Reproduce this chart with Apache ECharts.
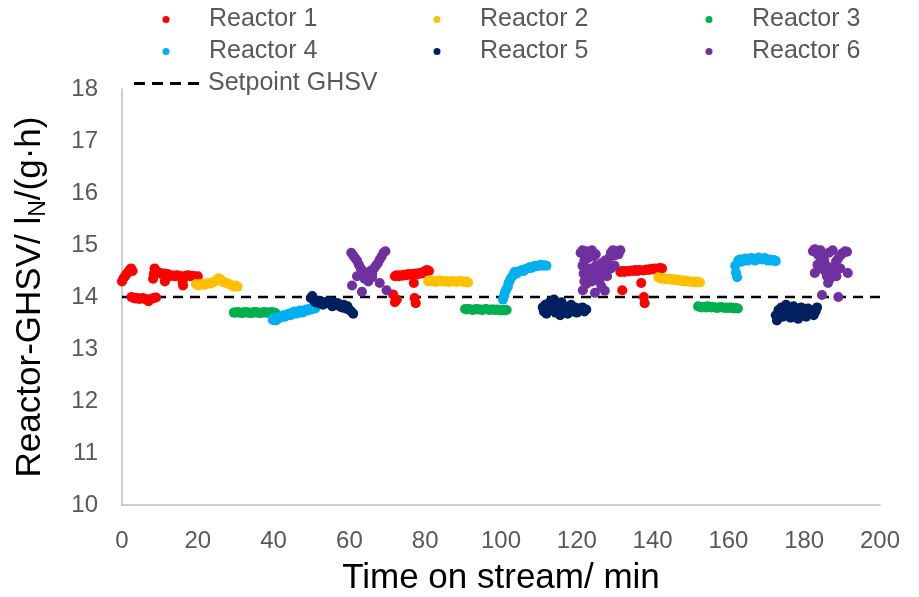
<!DOCTYPE html>
<html>
<head>
<meta charset="utf-8">
<script src="https://cdn.jsdelivr.net/npm/echarts@6/dist/echarts.min.js"></script>
<style>
  html, body { margin: 0; padding: 0; background: #fff; }
  #chart { width: 919px; height: 597px; }
</style>
</head>
<body>
<div id="chart"></div>
<script>
// Time on stream (min) and measured GHSV (lN/(g·h)) per reactor, as [time, ghsv]
const reactor1 = [
  [0,14.3],[0.4,14.36],[0.8,14.4],[1.2,14.44],[1.6,14.48],[2.0,14.52],[2.4,14.55],[2.8,14.5],
  [2.5,14.0],[3,13.98],[3.5,13.97],[4,13.98],[4.5,13.96],[5,13.97],[5.5,13.98],[6,13.96],[6.5,13.95],[7,13.92],[7.5,13.96],[8,13.97],[8.5,13.98],[9,13.99],
  [8.2,14.35],[8.4,14.45],[8.6,14.55],[9,14.5],[9.5,14.48],[10,14.46],[10.5,14.44],[11,14.45],[11.3,14.3],[11.5,14.42],[12,14.44],[12.5,14.4],[13,14.42],[13.5,14.41],[14,14.4],[14.5,14.42],[15,14.41],[15.5,14.4],[16,14.3],[16.1,14.22],[16.5,14.4],[17,14.41],[17.5,14.42],[18,14.4],[18.5,14.41],[19,14.4],[19.5,14.39],[20,14.4],
  [71.5,14.05],[72,13.9],[72.5,13.95],[72,14.4],[72.5,14.42],[73,14.4],[73.5,14.42],[74,14.41],[74.5,14.43],[75,14.42],[75.5,14.44],[76,14.43],[76.5,14.44],[77,14.27],[77.2,13.98],[77.5,13.88],[77.5,14.45],[78,14.44],[78.5,14.46],[79,14.45],[79.5,14.48],[80,14.5],[80.5,14.52],[81,14.5],
  [131.5,14.48],[132,14.5],[132,14.13],[132.5,14.48],[133,14.5],[133.5,14.49],[134,14.5],[134.5,14.51],[135,14.5],[135.5,14.52],[136,14.5],[136.5,14.52],[137,14.27],[137.5,14.51],[137.7,14.0],[137.9,13.88],[138,14.52],[138.5,14.53],[139,14.52],[139.5,14.54],[140,14.53],[140.5,14.55],[141,14.54],[141.5,14.55],[142,14.56],[142.5,14.55]
];
const reactor2 = [
  [19.5,14.25],[20,14.22],[20.5,14.24],[21,14.25],[21.5,14.23],[22,14.26],[22.5,14.25],[23,14.27],[23.5,14.26],[24,14.28],[24.5,14.3],[25,14.33],[25.5,14.36],[26,14.34],[26.5,14.3],[27,14.28],[27.5,14.27],[28,14.26],[28.5,14.24],[29,14.22],[29.5,14.2],[30,14.22],[30.5,14.2],
  [80.8,14.3],[81.3,14.32],[81.8,14.3],[82.3,14.31],[82.8,14.29],[83.3,14.3],[83.8,14.32],[84.3,14.31],[84.8,14.3],[85.3,14.31],[85.8,14.3],[86.3,14.29],[86.8,14.3],[87.3,14.31],[87.8,14.3],[88.3,14.29],[88.8,14.3],[89.3,14.31],[89.8,14.3],[90.3,14.29],[90.8,14.3],[91.3,14.28],
  [141.5,14.38],[142,14.36],[142.5,14.35],[143,14.36],[143.5,14.34],[144,14.34],[144.5,14.35],[145,14.33],[145.5,14.34],[146,14.32],[146.5,14.33],[147,14.32],[147.5,14.31],[148,14.32],[148.5,14.3],[149,14.31],[149.5,14.3],[150,14.3],[150.5,14.29],[151,14.3],[151.5,14.28],[152,14.29],[152.5,14.28]
];
const reactor3 = [
  [29.5,13.7],[30,13.7],[30.5,13.71],[31,13.7],[31.5,13.69],[32,13.7],[32.5,13.71],[33,13.7],[33.5,13.7],[34,13.69],[34.5,13.7],[35,13.71],[35.5,13.7],[36,13.7],[36.5,13.69],[37,13.7],[37.5,13.71],[38,13.7],[38.5,13.7],[39,13.69],[39.5,13.71],[40,13.7],[40.5,13.69],
  [90.5,13.77],[91,13.76],[91.5,13.77],[92,13.76],[92.5,13.75],[93,13.76],[93.5,13.77],[94,13.76],[94.5,13.76],[95,13.75],[95.5,13.76],[96,13.77],[96.5,13.76],[97,13.75],[97.5,13.76],[98,13.76],[98.5,13.75],[99,13.76],[99.5,13.75],[100,13.74],[100.5,13.75],[101,13.74],[101.5,13.75],
  [152,13.82],[152.5,13.81],[153,13.8],[153.5,13.81],[154,13.8],[154.5,13.82],[155,13.81],[155.5,13.8],[156,13.81],[156.5,13.8],[157,13.79],[157.5,13.8],[158,13.81],[158.5,13.8],[159,13.79],[159.5,13.8],[160,13.79],[160.5,13.8],[161,13.79],[161.5,13.78],[162,13.79],[162.5,13.78]
];
const reactor4 = [
  [39.8,13.56],[40.2,13.6],[40.6,13.55],[41,13.58],[41.4,13.62],[41.8,13.6],[42.2,13.63],[42.6,13.65],[43,13.62],[43.5,13.66],[44,13.68],[44.5,13.65],[45,13.7],[45.5,13.72],[46,13.68],[46.5,13.72],[47,13.74],[47.5,13.7],[48,13.72],[48.5,13.76],[49,13.74],[49.5,13.78],[50,13.76],[50.5,13.8],[51,13.78],
  [100.5,13.95],[100.8,14.02],[101,14.08],[101.4,14.15],[101.8,14.2],[102,14.27],[102.4,14.33],[102.8,14.38],[103.2,14.42],[103.6,14.48],[104,14.45],[104.5,14.47],[105,14.5],[105.5,14.52],[106,14.5],[106.5,14.54],[107,14.55],[107.5,14.57],[108,14.56],[108.5,14.58],[109,14.6],[109.5,14.59],[110,14.6],[110.5,14.62],[111,14.6],[111.5,14.61],[112,14.6],
  [161.8,14.6],[162,14.47],[162.3,14.38],[162.6,14.7],[163,14.72],[163.5,14.68],[164,14.72],[164.5,14.74],[165,14.7],[165.5,14.73],[166,14.75],[166.5,14.72],[167,14.7],[167.5,14.74],[168,14.76],[168.5,14.73],[169,14.72],[169.5,14.75],[170,14.73],[170.5,14.7],[171,14.72],[171.5,14.7],[172,14.71],[172.5,14.69]
];
const reactor5 = [
  [49.8,13.98],[50.2,14.02],[50.6,13.95],[51,13.9],[51.4,13.92],[51.8,13.88],[52.2,13.93],[52.6,13.9],[53,13.85],[53.5,13.9],[54,13.88],[54.5,13.92],[55,13.86],[55.5,13.82],[56,13.9],[56.5,13.85],[57,13.88],[57.5,13.82],[58,13.8],[58.5,13.85],[59,13.78],[59.5,13.82],[60,13.75],[60.5,13.72],[61,13.68],
  [111,13.8],[111.3,13.72],[111.7,13.85],[112,13.68],[112.4,13.78],[112.8,13.9],[113.2,13.75],[113.6,13.82],[114,13.95],[114.4,13.7],[114.8,13.85],[115.2,13.78],[115.6,13.65],[116,13.9],[116.4,13.82],[116.8,13.72],[117.2,13.8],[117.6,13.68],[118,13.75],[118.5,13.85],[119,13.72],[119.5,13.8],[120,13.7],[120.5,13.78],[121,13.74],[121.5,13.8],[122,13.72],[122.5,13.76],
  [172.5,13.65],[172.8,13.55],[173.2,13.75],[173.6,13.7],[174,13.8],[174.4,13.62],[174.8,13.72],[175.2,13.85],[175.6,13.68],[176,13.78],[176.4,13.6],[176.8,13.72],[177.2,13.82],[177.6,13.65],[178,13.75],[178.4,13.58],[178.8,13.7],[179.2,13.8],[179.6,13.66],[180,13.74],[180.5,13.62],[181,13.78],[181.5,13.68],[182,13.75],[182.5,13.65],[183,13.72],[183.4,13.8]
];
const reactor6 = [
  [60.5,14.85],[61,14.8],[61.5,14.75],[62,14.7],[62.5,14.62],[63,14.55],[63.5,14.5],[64,14.45],[64.5,14.4],[65,14.45],[65.5,14.5],[66,14.45],[66.5,14.55],[67,14.6],[67.5,14.65],[68,14.72],[68.5,14.78],[69,14.85],[69.5,14.88],[64,14.35],[65,14.3],[66,14.38],[60.7,14.22],[63.3,14.1],[68,14.27],[69.8,14.13],[62,14.4],
  [121,14.85],[121.5,14.9],[122,14.8],[122.5,14.88],[123,14.75],[123.5,14.85],[124,14.9],[124.5,14.78],[125,14.82],[121.5,14.6],[121.8,14.45],[122,14.3],[121.6,14.13],[122.5,14.25],[123,14.4],[123.5,14.55],[124,14.3],[124.5,14.45],[124.8,14.08],[125,14.6],[125.5,14.4],[126,14.55],[126.5,14.65],[126,14.3],[127,14.5],[127.4,14.12],[127.5,14.7],[128,14.6],[128.5,14.75],[129,14.85],[129.5,14.9],[130,14.8],[130.5,14.88],[131,14.82],[131.5,14.9],[128,14.4],[129,14.55],[130,14.6],[126.5,14.2],[122,14.7],
  [182.3,14.88],[182.8,14.92],[183.3,14.85],[183.8,14.8],[184.3,14.9],[184.8,14.75],[185.3,14.7],[185.8,14.6],[182.8,14.46],[183.5,14.62],[184,14.55],[184.7,14.04],[185.5,14.5],[186,14.4],[186.3,14.27],[186.8,14.35],[187.2,14.45],[187.6,14.52],[188,14.6],[188.4,14.68],[188.8,14.72],[189,14.0],[189.3,14.78],[189.8,14.82],[190.3,14.85],[190.8,14.88],[191.3,14.87],[191.5,14.46],[188.5,14.4],[189.5,14.55],[186.5,14.85],[187.5,14.9]
];
// Setpoint line
const setpointTime = [0, 200];
const setpointGhsv = [14, 14];

const xTicks = { min: 0, max: 200, interval: 20 };
const yTicks = { min: 10, max: 18, interval: 1 };

const reactorNames = ['Reactor 1','Reactor 2','Reactor 3','Reactor 4','Reactor 5','Reactor 6'];
const reactorColors = ['#FF0000','#FFC000','#00B050','#00B0F0','#002060','#7030A0'];
const reactorData = [reactor1, reactor2, reactor3, reactor4, reactor5, reactor6];

const FONT = '"Liberation Sans", Arial, sans-serif';
const legendFont = 25;

// legend slots: three columns, two rows of reactors, then the setpoint entry
const dotCenter = [166, 437, 709];
const textStart = [209, 480, 752];
const rowTop = [7, 39, 71];
const legends = reactorNames.map((name, i) => {
  const c = i % 3;
  return {
    data: [name],
    left: dotCenter[c] - 3.5,
    top: rowTop[Math.floor(i / 3)],
    padding: 0,
    icon: 'circle',
    itemWidth: 7,
    itemHeight: 7,
    textStyle: {
      color: '#595959', fontSize: legendFont, fontFamily: FONT,
      padding: [0, 0, 0, textStart[c] - (dotCenter[c] - 3.5) - 12]
    },
    selectedMode: false
  };
});
legends.push({
  data: ['Setpoint GHSV'],
  left: 134,
  top: rowTop[2],
  padding: 0,
  icon: 'path://M0,0h11v3h-11z M18,0h11v3h-11z M36,0h11v3h-11z M54,0h11v3h-11z',
  itemWidth: 65,
  itemHeight: 3,
  symbolKeepAspect: false,
  itemStyle: { color: '#000' },
  textStyle: { color: '#595959', fontSize: legendFont, fontFamily: FONT, padding: [0, 0, 0, 4] },
  selectedMode: false
});

const series = [{
  name: 'Setpoint GHSV',
  type: 'line',
  data: setpointTime.map((t, i) => [t, setpointGhsv[i]]),
  showSymbol: false,
  symbol: 'none',
  lineStyle: { color: '#000', width: 2.5, type: [10, 7] },
  itemStyle: { color: '#000' },
  z: 1
}];
reactorNames.forEach((name, i) => {
  series.push({
    name: name,
    type: 'scatter',
    data: reactorData[i],
    symbolSize: 10,
    itemStyle: { color: reactorColors[i], opacity: 1 },
    z: 2
  });
});

const chart = echarts.init(document.getElementById('chart'), null, { renderer: 'canvas' });
chart.setOption({
  animation: false,
  backgroundColor: '#fff',
  legend: legends,
  grid: { left: 122, right: 39, top: 89, bottom: 92, outerBoundsMode: 'none', containLabel: false },
  xAxis: {
    type: 'value',
    min: xTicks.min, max: xTicks.max, interval: xTicks.interval,
    name: 'Time on stream/ min',
    nameLocation: 'middle',
    nameGap: 56,
    nameTextStyle: { color: '#000', fontSize: 35, fontFamily: FONT },
    axisLine: { lineStyle: { color: '#BFBFBF', width: 1.5 } },
    axisTick: { show: false },
    splitLine: { show: false },
    axisLabel: { color: '#595959', fontSize: 24, fontFamily: FONT, margin: 24 }
  },
  yAxis: {
    type: 'value',
    min: yTicks.min, max: yTicks.max, interval: yTicks.interval,
    name: '{a|Reactor-GHSV/ l}{sub|N}{a|/(g·h)}',
    nameLocation: 'middle',
    nameGap: 72,
    nameTextStyle: {
      color: '#000', fontFamily: FONT,
      rich: {
        a: { fontSize: 35, color: '#000', fontFamily: FONT, lineHeight: 40, verticalAlign: 'middle' },
        sub: { fontSize: 23, color: '#000', fontFamily: FONT, lineHeight: 40, verticalAlign: 'bottom' }
      }
    },
    axisLine: { show: true, lineStyle: { color: '#BFBFBF', width: 1.5 } },
    axisTick: { show: false },
    splitLine: { show: false },
    axisLabel: { color: '#595959', fontSize: 24, fontFamily: FONT, margin: 24 }
  },
  series: series
});
</script>
</body>
</html>
